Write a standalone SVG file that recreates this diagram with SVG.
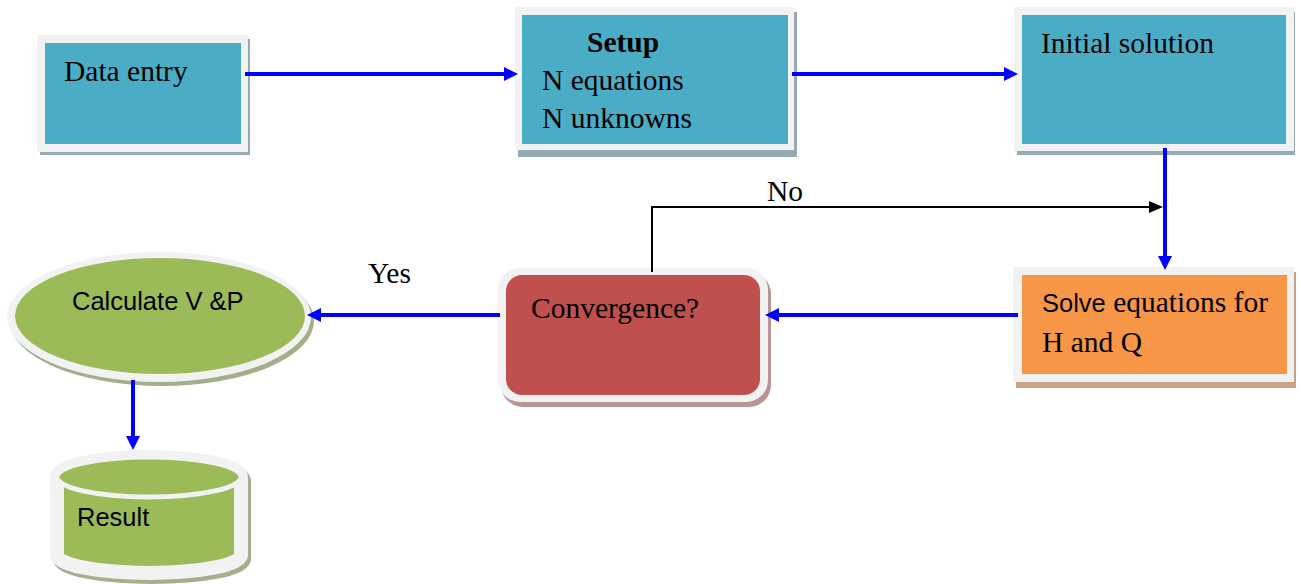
<svg xmlns="http://www.w3.org/2000/svg" width="1301" height="584" viewBox="0 0 1301 584">
<style>
.serif{font-family:"Liberation Serif","Times New Roman",serif;font-size:29.5px;fill:#000}
.sans{font-family:"Liberation Sans",Arial,sans-serif;font-size:25.5px;fill:#000}
.frame{fill:#f2f2f2}
.teal{fill:#4bacc6}
.tshadow{fill:#94abb4}
.blue{stroke:#0000ff;stroke-width:4;fill:none}
.black{stroke:#000;stroke-width:2;fill:none}
</style>
<defs>
<marker id="ab" viewBox="0 0 14 14" markerWidth="14" markerHeight="14" refX="4" refY="7" orient="auto" markerUnits="userSpaceOnUse">
<path d="M0,0 L14,7 L0,14 Z" fill="#0000ff"/>
</marker>
<marker id="ak" viewBox="0 0 14 12" markerWidth="14" markerHeight="12" refX="4" refY="6" orient="auto" markerUnits="userSpaceOnUse">
<path d="M0,0 L14,6 L0,12 Z" fill="#000"/>
</marker>
</defs>
<rect width="1301" height="584" fill="#fff"/>

<g id="data-entry">
<rect class="tshadow" x="40" y="39" width="210" height="116"/>
<rect class="frame" x="37" y="35" width="211" height="117"/>
<rect class="teal" x="45" y="43" width="196" height="101"/>
<text class="serif" x="64" y="81">Data entry</text>
</g>

<g id="setup">
<rect class="tshadow" x="518" y="12" width="279" height="145"/>
<rect class="frame" x="515" y="7" width="279" height="143"/>
<rect class="teal" x="522" y="15" width="266" height="129"/>
<text class="serif" x="587" y="52" font-weight="bold">Setup</text>
<text class="serif" x="542" y="90">N equations</text>
<text class="serif" x="542" y="128">N unknowns</text>
</g>

<g id="initial-solution">
<rect class="tshadow" x="1017" y="12" width="278" height="143"/>
<rect class="frame" x="1014" y="7" width="280" height="144"/>
<rect class="teal" x="1022" y="15" width="264" height="129"/>
<text class="serif" x="1041" y="53">Initial solution</text>
</g>

<g id="solve">
<rect x="1016" y="272" width="280" height="116" fill="#c9a383"/>
<rect class="frame" x="1013" y="267" width="281" height="115"/>
<rect x="1022" y="275" width="265" height="99" fill="#f79646"/>
<text class="serif" x="1042" y="312"><tspan class="sans" style="font-size:25.5px">Solve</tspan> equations for</text>
<text class="serif" x="1042" y="352">H and Q</text>
</g>

<g id="convergence">
<rect x="501" y="272" width="270" height="135" rx="22" fill="#b99494"/>
<rect class="frame" x="498" y="268" width="270" height="134" rx="22"/>
<rect x="506" y="275" width="254" height="120" rx="16" fill="#c0504d"/>
<text class="serif" x="531" y="318">Convergence?</text>
</g>

<g id="calculate">
<ellipse cx="162" cy="321" rx="152" ry="65" fill="#a4ae8a"/>
<ellipse class="frame" cx="159" cy="317" rx="152" ry="65"/>
<ellipse cx="160" cy="316" rx="145" ry="58" fill="#9bbb59"/>
<text class="sans" x="72" y="310">Calculate V &amp;P</text>
</g>

<g id="result">
<path d="M60,481 V559 A92,18 0 0 0 244,559 V481 A92,20 0 0 0 60,481 Z" fill="#a6ae8c" stroke="#a6ae8c" stroke-width="14"/>
<path d="M57,477 V555 A92,18 0 0 0 241,555 V477 A92,20 0 0 0 57,477 Z" fill="#9bbb59" stroke="#f2f2f2" stroke-width="14"/>
<ellipse cx="149" cy="477" rx="92" ry="20" fill="#9bbb59" stroke="#f2f2f2" stroke-width="5"/>
<text class="sans" x="77" y="526">Result</text>
</g>

<g id="connectors">
<line class="blue" x1="245" y1="74" x2="508" y2="74" marker-end="url(#ab)"/>
<line class="blue" x1="792" y1="74" x2="1008" y2="74" marker-end="url(#ab)"/>
<line class="blue" x1="1165" y1="148" x2="1165" y2="260" marker-end="url(#ab)"/>
<line class="blue" x1="1018" y1="315" x2="775" y2="315" marker-end="url(#ab)"/>
<line class="blue" x1="500" y1="315" x2="317" y2="315" marker-end="url(#ab)"/>
<line class="blue" x1="133" y1="380" x2="133" y2="440" marker-end="url(#ab)"/>
<path class="black" d="M652,272 V207 H1153" marker-end="url(#ak)"/>
<text class="serif" x="767" y="201">No</text>
<text class="serif" x="368" y="283">Yes</text>
</g>
</svg>
